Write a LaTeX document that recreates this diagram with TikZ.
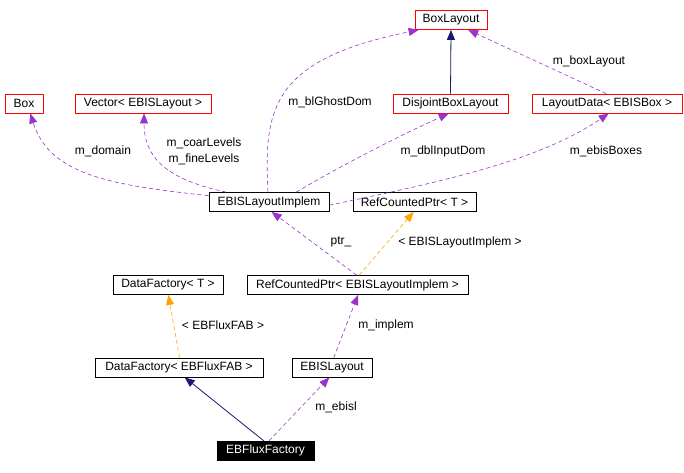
\documentclass[tikz,border=0pt]{standalone}
\usepackage{fontspec}
\setmainfont{Liberation Sans}
\usetikzlibrary{arrows.meta}
\definecolor{edgepurple}{HTML}{9A32CD}
\definecolor{edgeorange}{HTML}{FFA500}
\definecolor{edgenavy}{HTML}{191970}
\begin{document}
\begin{tikzpicture}[x=1pt,y=-1pt,
  every node/.style={font=\fontsize{12}{14}\selectfont},
  cls/.style={draw=black, line width=0.8pt, rectangle, inner sep=0pt, minimum height=19pt},
  redcls/.style={draw=red, line width=0.8pt, rectangle, inner sep=0pt, minimum height=19pt},
  lbl/.style={inner sep=0pt},
  tip/.style={-{Triangle[length=10pt,width=8pt]}},
  usage/.style={tip, draw=edgepurple, dash pattern=on 4pt off 3pt, line width=0.6pt},
  tmpl/.style={tip, draw=edgeorange, dash pattern=on 4pt off 3pt, line width=0.6pt},
  inherit/.style={tip, draw=edgenavy, line width=0.8pt}]
\useasboundingbox[fill=white] (0,0) rectangle (684,472);

\node[redcls, minimum width=72pt]  (bl)   at (451,20)    {BoxLayout};
\node[redcls, minimum width=38pt]  (box)  at (24,103.5)  {Box};
\node[redcls, minimum width=136pt] (vec)  at (143,103.5) {Vector< EBISLayout >};
\node[redcls, minimum width=115pt] (dbl)  at (450.5,103.5) {DisjointBoxLayout};
\node[redcls, minimum width=150pt] (ld)   at (607,103.5) {LayoutData< EBISBox >};
\node[cls, minimum width=120pt]    (impl) at (269,202)   {EBISLayoutImplem};
\node[cls, minimum width=123pt]    (rcpt) at (414.5,202) {RefCountedPtr< T >};
\node[cls, minimum width=110pt]    (dft)  at (168,285)   {DataFactory< T >};
\node[cls, minimum width=221pt]    (rcpi) at (357.5,285) {RefCountedPtr< EBISLayoutImplem >};
\node[cls, minimum width=168pt]    (dfe)  at (179,367.5) {DataFactory< EBFluxFAB >};
\node[cls, minimum width=80pt]     (ebl)  at (332,367.5) {EBISLayout};
\node[draw=black, fill=black, text=white, rectangle, inner sep=0pt, minimum height=19pt, minimum width=97pt] (eff) at (265.5,450.5) {EBFluxFactory};

% edges
\draw[inherit] (dbl.north) -- (bl.south);
\draw[usage] (ld.95) -- (bl.-30);
\draw[usage] (impl.96) .. controls (264,110) and (270,60) .. (bl.-163);
\draw[usage] (impl.174) .. controls (110,185) and (50,175) .. (box.-58);
\draw[usage] (impl.167) .. controls (170,180) and (144,160) .. (vec.-84);
\draw[usage] (impl.20) .. controls (330,172) and (390,140) .. (dbl.-100);
\draw[usage] (impl.-3) .. controls (450,180) and (540,160) .. (ld.-80);
\draw[usage] (rcpi.95) -- (impl.-75);
\draw[tmpl] (rcpi.80) -- (rcpt.-95);
\draw[usage] (ebl.80) -- (rcpi.-87);
\draw[tmpl] (dfe.87) -- (dft.-88);
\draw[inherit] (eff.100) -- (dfe.-60);
\draw[usage] (eff.70) -- (ebl.-105);

% labels
\node[lbl] (lboxlayout) at (589,61)  {m\_boxLayout};
\node[lbl] (lghost)     at (330,102) {m\_blGhostDom};
\node[lbl] (ldomain)    at (103,151) {m\_domain};
\node[lbl] (lcoar)      at (204,143) {m\_coarLevels};
\node[lbl] (lfine)      at (204,159) {m\_fineLevels};
\node[lbl] (ldbl)       at (443,151) {m\_dblInputDom};
\node[lbl] (lebis)      at (606,151) {m\_ebisBoxes};
\node[lbl] (lptr)       at (341,242) {ptr\_};
\node[lbl] (limpl)      at (460,242) {< EBISLayoutImplem >};
\node[lbl] (lflux)      at (223,325) {< EBFluxFAB >};
\node[lbl] (limplem)    at (386,325) {m\_implem};
\node[lbl] (lebisl)     at (336,407) {m\_ebisl};
\end{tikzpicture}
\end{document}
